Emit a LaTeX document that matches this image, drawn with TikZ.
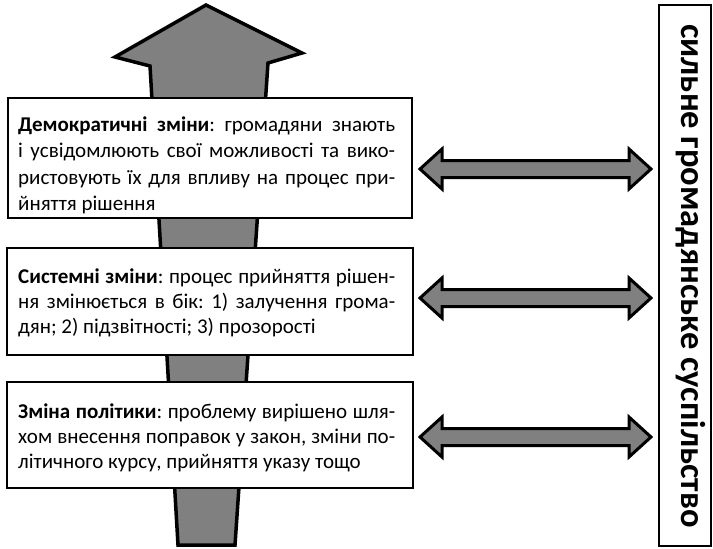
\documentclass[tikz,border=0pt]{standalone}
\usepackage{fontspec}
\setmainfont{Carlito}
\frenchspacing
\definecolor{fillg}{RGB}{128,128,128}
\newcommand{\jl}[1]{\hbox to 377pt{#1}}
\newcommand{\nl}[1]{\hbox{#1}}
\newcommand{\fatdbl}[4]{% name, y, left tip x, right tip x
  \draw[dblarrow] (#3,#2) coordinate (#1l) -- (#3+22,#2-20) -- (#3+22,#2-8.5) -- (#4-22,#2-8.5) -- (#4-22,#2-20)
    -- (#4,#2) coordinate (#1r) -- (#4-22,#2+20) -- (#4-22,#2+8.5) -- (#3+22,#2+8.5) -- (#3+22,#2+20) -- cycle;}
\tikzset{
  bigarrow/.style={fill=fillg, draw=black, line width=3.5pt, line join=miter},
  dblarrow/.style={fill=fillg, draw=black, line width=3pt, line join=miter},
  boxw/.style={draw=black, fill=white, line width=1.6pt, inner sep=0pt},
  txt/.style={inner sep=0pt, anchor=base west, font={\fontsize{21}{26.6}\selectfont}},
  txtb/.style={txt, font={\fontsize{21}{25}\selectfont}},
}
\begin{document}
\begin{tikzpicture}[x=1pt,y=-1pt]
\useasboundingbox (0,0) rectangle (713,549);
% big upward arrow
\draw[bigarrow] (206,5) -- (302,53) -- (268,63) -- (235,545) -- (178,545) -- (150,66) -- (115,57) -- cycle;
% boxes
\node[boxw, minimum width=404pt, minimum height=120pt] (b1) at (210,158) {};
\node[boxw, minimum width=406pt, minimum height=107pt] (b2) at (210,301.5) {};
\node[boxw, minimum width=406pt, minimum height=106pt] (b3) at (210,435) {};
\node[txt] (t1) at (18,131) {\vtop{%
  \jl{\textbf{Демократичні зміни}: громадяни знають}%
  \jl{і усвідомлюють свої можливості та вико-}%
  \jl{ристовують їх для впливу на процес при-}%
  \nl{йняття рішення}}};
\node[txtb] (t2) at (18,283) {\vtop{%
  \jl{\textbf{Системні зміни}: процес прийняття рішен-}%
  \jl{ня змінюється в бік: 1) залучення грома-}%
  \nl{дян; 2) підзвітності; 3) прозорості}}};
\node[txtb] (t3) at (18,418) {\vtop{%
  \jl{\textbf{Зміна політики}: проблему вирішено шля-}%
  \jl{хом внесення поправок у закон, зміни по-}%
  \nl{літичного курсу, прийняття указу тощо}}};
% right box
\node[draw=black, line width=1.4pt, minimum width=52pt, minimum height=541pt, inner sep=0pt] (rb) at (685,275.5) {};
\node[rotate=-90, anchor=base, inner sep=0pt, font={\fontsize{34.5}{38}\selectfont\bfseries}] (rt) at (681,276) {сильне громадянське суспільство};
% double arrows
\fatdbl{da}{169}{420}{651}
\fatdbl{db}{298}{420}{651}
\fatdbl{dc}{437}{420}{651}
\end{tikzpicture}
\end{document}
